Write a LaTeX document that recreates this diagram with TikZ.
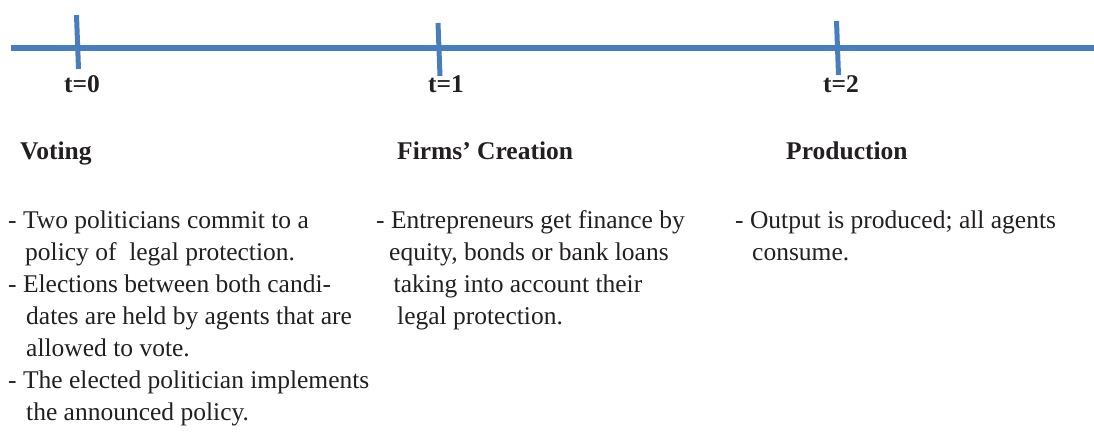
\documentclass[tikz,border=0pt]{standalone}
\usepackage{fontspec}
\setmainfont{Liberation Serif}
\definecolor{lineblue}{HTML}{4A7EBB}
\definecolor{txt}{HTML}{231F20}
\tikzset{
  axis/.style={draw=lineblue, line width=5.5pt},
  tick/.style={draw=lineblue, line width=5pt},
  lbl/.style={anchor=base west, inner sep=0pt, text=txt, font=\fontsize{25.5}{32}\selectfont\bfseries},
  body/.style={anchor=base west, inner sep=0pt, text=txt, font=\fontsize{25.5}{32}\selectfont},
}
\begin{document}
\begin{tikzpicture}[x=1pt,y=-1pt]
\useasboundingbox (0,0) rectangle (1094,434);
% timeline
\coordinate (L) at (11,48);
\coordinate (R) at (1094,48);
\draw[axis] (L) -- (R);
\coordinate (t0a) at (76.5,15); \coordinate (t0b) at (78.5,69);
\coordinate (t1a) at (438,23);  \coordinate (t1b) at (440,76);
\coordinate (t2a) at (836.5,21); \coordinate (t2b) at (838.5,75);
\draw[tick] (t0a) -- (t0b);
\draw[tick] (t1a) -- (t1b);
\draw[tick] (t2a) -- (t2b);
% time labels
\node[lbl] (l0) at (64,92) {t=0};
\node[lbl] (l1) at (428,92) {t=1};
\node[lbl] (l2) at (823,92) {t=2};
% headings
\node[lbl] (h0) at (20,159) {Voting};
\node[lbl] (h1) at (397,159) {Firms’ Creation};
\node[lbl] (h2) at (786,159) {Production};
% column 1
\node[body] (a1) at (8,228) {- Two politicians commit to a};
\node[body] (a2) at (25,260) {policy of\ \ legal protection.};
\node[body] (a3) at (8,292) {- Elections between both candi-};
\node[body] (a4) at (26,324) {dates are held by agents that are};
\node[body] (a5) at (26,356) {allowed to vote.};
\node[body] (a6) at (8,388) {- The elected politician implements};
\node[body] (a7) at (26,420) {the announced policy.};
% column 2
\node[body] (b1) at (376,228) {- Entrepreneurs get finance by};
\node[body] (b2) at (389,260) {equity, bonds or bank loans};
\node[body] (b3) at (393.5,292) {taking into account their};
\node[body] (b4) at (397,324) {legal protection.};
% column 3
\node[body] (c1) at (735,228) {- Output is produced; all agents};
\node[body] (c2) at (752,260) {consume.};
\end{tikzpicture}
\end{document}
